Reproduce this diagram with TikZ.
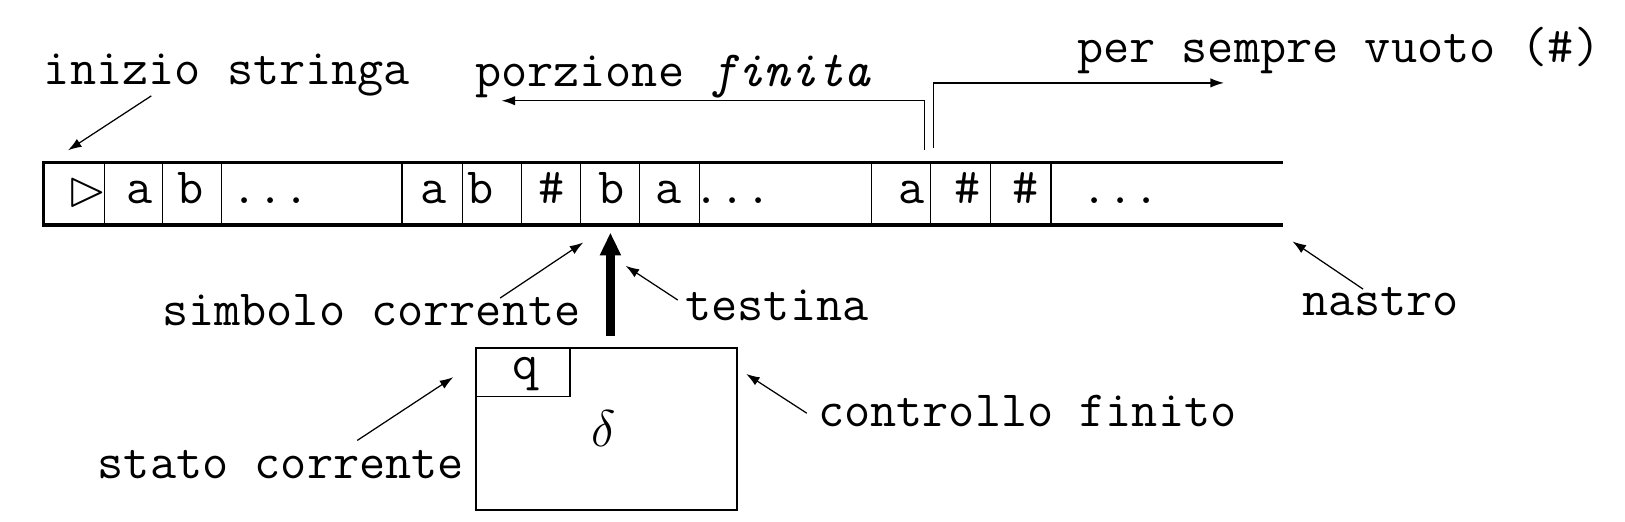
\documentclass[tikz,border=0pt]{standalone}
\usepackage{amssymb}
\usetikzlibrary{arrows.meta}
\begin{document}
\begin{tikzpicture}[x=0.5pt,y=-0.5pt,
  lbl/.style={inner sep=0pt, anchor=base west, font=\fontsize{24.5}{28}\selectfont\ttfamily},
  sym/.style={inner sep=0pt, anchor=base, font=\fontsize{24.5}{28}\selectfont\ttfamily},
  ptr/.style={line width=0.6pt, -{Latex[length=6.5pt,width=4.5pt]}},
  elbowptr/.style={line width=0.6pt, -{Latex[length=6.5pt,width=4.5pt]}, line join=miter},
  tapeline/.style={line width=1.7pt, line join=miter},
  cellline/.style={line width=0.65pt},
  boxline/.style={draw, line width=0.9pt, inner sep=0pt, anchor=north west},
  headarrow/.style={line width=4.2pt, -{Triangle[length=11pt,width=9.5pt]}},
]
\useasboundingbox (0,0) rectangle (1568,503);

% tape
\draw[tapeline] (1238,157) -- (42,157) -- (42,217) -- (1238,217);
\foreach \x in {101,157,214,388,446,503,560,617,675,841,898,956,1014}
  \draw[cellline] (\x,157) -- (\x,217);

% tape symbols
\node[inner sep=0pt, font=\fontsize{24.5}{28}\selectfont] (t0) at (84.5,185.5) {$\vartriangleright$};
\node[sym] (t1) at (135,196) {a};
\node[sym] (t2) at (184,196) {b};
\node[sym] (t3) at (261,196) {...};
\node[sym] (t4) at (418,196) {a};
\node[sym] (t5) at (464,196) {b};
\node[sym] (t6) at (532,196) {\#};
\node[sym] (t7) at (590,196) {b};
\node[sym] (t8) at (645,196) {a};
\node[sym] (t9) at (707,196) {...};
\node[sym] (t10) at (880,196) {a};
\node[sym] (t11) at (934,196) {\#};
\node[sym] (t12) at (990,196) {\#};
\node[sym] (t13) at (1081,196) {...};

% finite control
\node[boxline, minimum width=126pt, minimum height=78.15pt] (ctrl) at (458.5,334.5) {};
\node[boxline, minimum width=45.5pt, minimum height=23.6pt] (qbox) at (458.5,334.5) {};
\node[sym] (q) at (507,366) {q};
\node[sym] (delta) at (582.5,431) {$\delta$};

% head
\coordinate (hbot) at (589,323.9);
\coordinate (htop) at (589,224.4);
\draw[headarrow] (hbot) -- (htop);

% labels
\node[lbl] (inizio) at (42,81.5) {inizio stringa};
\node[lbl] (porz) at (458,83.7) {porzione \textit{finita}};
\node[lbl] (sempre) at (1039,60.5) {per sempre vuoto (\#)};
\node[lbl] (simbolo) at (156,314) {simbolo corrente};
\node[lbl] (testina) at (661,309) {testina};
\node[lbl] (stato) at (94,462) {stato corrente};
\node[lbl] (controllo) at (789,412) {controllo finito};
\node[lbl] (nastro) at (1256,304) {nastro};

% pointer coordinates
\coordinate (iA) at (146,92.5);   \coordinate (iB) at (65.7,145);
\coordinate (sA) at (482.6,287.6); \coordinate (sB) at (562.8,234);
\coordinate (tA) at (654,289.5);  \coordinate (tB) at (603.7,256.5);
\coordinate (stA) at (344.7,425); \coordinate (stB) at (437.3,364);
\coordinate (cA) at (778.5,398.7); \coordinate (cB) at (720,360.8);
\coordinate (nA) at (1315.3,279); \coordinate (nB) at (1247.2,233);
\coordinate (pA) at (892,144.8);  \coordinate (pB) at (484,97.2);
\coordinate (vA) at (901,142.5);  \coordinate (vB) at (1181,80);

\draw[ptr] (iA) -- (iB);
\draw[ptr] (sA) -- (sB);
\draw[ptr] (tA) -- (tB);
\draw[ptr] (stA) -- (stB);
\draw[ptr] (cA) -- (cB);
\draw[ptr] (nA) -- (nB);
\draw[elbowptr] (pA) |- (pB);
\draw[elbowptr] (vA) |- (vB);
\end{tikzpicture}
\end{document}
